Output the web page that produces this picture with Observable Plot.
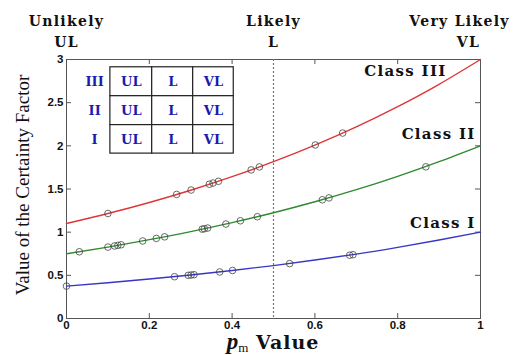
<!DOCTYPE html>
<html>
<head>
<meta charset="utf-8">
<script src="https://cdn.jsdelivr.net/npm/d3@7"></script>
<script src="https://cdn.jsdelivr.net/npm/@observablehq/plot@0.6"></script>
<style>
  html, body { margin: 0; padding: 0; background: #fff; }
  #chart { width: 524px; height: 355px; }
</style>
</head>
<body>
<div id="chart"></div>
<script>
// ---- data ----
const xTicks = [0, 0.2, 0.4, 0.6, 0.8, 1];
const yTicks = [0, 0.5, 1, 1.5, 2, 2.5, 3];
const xTickLabels = ["0", "0.2", "0.4", "0.6", "0.8", "1"];
const yTickLabels = ["0", "0.5", "1", "1.5", "2", "2.5", "3"];

const pX = [0, 0.1, 0.2, 0.3, 0.4, 0.5, 0.6, 0.7, 0.8, 0.9, 1];
const classI = [0.375, 0.414, 0.457, 0.504, 0.556, 0.613, 0.677, 0.746, 0.824, 0.909, 1.0];
const classII = [0.75, 0.827, 0.913, 1.007, 1.111, 1.225, 1.352, 1.492, 1.647, 1.817, 2.0];
const classIII = [1.1, 1.216, 1.344, 1.486, 1.643, 1.816, 2.008, 2.219, 2.454, 2.713, 3.0];

const ptsIx = [0.0, 0.261, 0.294, 0.301, 0.308, 0.37, 0.401, 0.539, 0.684, 0.692];
const ptsIy = [0.375, 0.484, 0.500, 0.504, 0.507, 0.539, 0.556, 0.636, 0.733, 0.739];
const ptsIIx = [0.031, 0.10, 0.116, 0.124, 0.132, 0.184, 0.217, 0.237, 0.328, 0.333, 0.341, 0.385, 0.42, 0.461, 0.618, 0.634, 0.868];
const ptsIIy = [0.773, 0.827, 0.840, 0.847, 0.854, 0.898, 0.928, 0.946, 1.035, 1.040, 1.048, 1.094, 1.132, 1.179, 1.375, 1.397, 1.757];
const ptsIIIx = [0.10, 0.266, 0.301, 0.345, 0.354, 0.367, 0.446, 0.466, 0.601, 0.667];
const ptsIIIy = [1.216, 1.437, 1.488, 1.555, 1.569, 1.589, 1.721, 1.756, 2.01, 2.148];

const classNames = ["Class I", "Class II", "Class III"];
const levelNames = ["Unlikely", "Likely", "Very Likely"];
const levelCodes = ["UL", "L", "VL"];
const levelAt = [0, 0.5, 1];
const tableRows = ["III", "II", "I"];

// ---- layout ----
const W = 524, H = 355;
const mT = 59, mB = 37, mL = 66, mR = 44;
const plotH = H - mT - mB, plotW = W - mL - mR;
const tickLen = 5;
const tkY = tickLen * 3 / plotH, tkX = tickLen / plotW;

const serifB = "'DejaVu Serif', serif";
const colors = {"Class I": "#3636c8", "Class II": "#2f8a2f", "Class III": "#e03535"};

const lineData = [];
[classI, classII, classIII].forEach((arr, k) => arr.forEach((v, i) => lineData.push({cls: classNames[k], x: pX[i], y: v})));
const ptData = [];
[[ptsIx, ptsIy], [ptsIIx, ptsIIy], [ptsIIIx, ptsIIIy]].forEach(([xs, ys], k) => xs.forEach((x, i) => ptData.push({cls: classNames[k], x, y: ys[i]})));

// table inset (in data coords)
const tX = [0.106, 0.207, 0.306, 0.404];
const tY = [2.91, 2.575, 2.24, 1.91];
const cells = [];
tableRows.forEach((r, i) => levelCodes.forEach((c, j) => cells.push({x1: tX[j], x2: tX[j+1], y1: tY[i+1], y2: tY[i], text: c})));
const rowLbl = tableRows.map((r, i) => ({x: 0.068, y: (tY[i] + tY[i+1]) / 2, text: r}));

const classLbl = [
  {text: "Class III", x: 0.918, y: 2.87},
  {text: "Class II", x: 0.988, y: 2.14},
  {text: "Class I", x: 0.988, y: 1.10}
];

const tableBlue = "#1a1ab0";

const svg = Plot.plot({
  width: W, height: H,
  marginTop: mT, marginBottom: mB, marginLeft: mL, marginRight: mR,
  style: {background: "#fff", overflow: "visible"},
  x: {domain: [0, 1], axis: null},
  y: {domain: [0, 3], axis: null},
  marks: [
    Plot.frame({stroke: "#555", strokeWidth: 1}),
    // inward ticks
    Plot.ruleX(xTicks, {x: d => d, y1: 0, y2: tkY, stroke: "#555"}),
    Plot.ruleX(xTicks, {x: d => d, y1: 3 - tkY, y2: 3, stroke: "#555"}),
    Plot.ruleY(yTicks, {y: d => d, x1: 0, x2: tkX, stroke: "#555"}),
    Plot.ruleY(yTicks, {y: d => d, x1: 1 - tkX, x2: 1, stroke: "#555"}),
    // tick labels
    Plot.text(xTicks, {x: d => d, frameAnchor: "bottom", dy: 10, text: (d, i) => xTickLabels[i],
      fontFamily: "'Liberation Sans', Arial, sans-serif", fontWeight: "bold", fontSize: 11.5, fill: "#111"}),
    Plot.text(yTicks, {y: d => d, frameAnchor: "left", dx: -3, textAnchor: "end", text: (d, i) => yTickLabels[i],
      fontFamily: "'Liberation Sans', Arial, sans-serif", fontWeight: "bold", fontSize: 11.5, fill: "#111"}),
    // dashed line at p = 0.5
    Plot.ruleX([0.5], {stroke: "#777", strokeWidth: 1.2, strokeDasharray: "2,2"}),
    // curves
    Plot.line(lineData, {x: "x", y: "y", z: "cls", stroke: d => colors[d.cls], strokeWidth: 1.4, curve: "natural"}),
    Plot.dot(ptData, {x: "x", y: "y", r: 3.3, stroke: "#444", strokeWidth: 0.8, fill: "none"}),
    // class labels
    Plot.text(classLbl, {x: "x", y: "y", text: "text", textAnchor: "end", fontFamily: serifB, fontWeight: "bold", fontSize: 15, fill: "#111"}),
    // table inset
    Plot.rect(cells, {x1: "x1", x2: "x2", y1: "y1", y2: "y2", fill: "#fff", stroke: "#222", strokeWidth: 1.2}),
    Plot.text(cells, {x: d => (d.x1 + d.x2) / 2, y: d => (d.y1 + d.y2) / 2, text: "text", fontFamily: serifB, fontWeight: "bold", fontSize: 13, fill: tableBlue}),
    Plot.text(rowLbl, {x: "x", y: "y", text: "text", fontFamily: serifB, fontWeight: "bold", fontSize: 13, fill: tableBlue}),
    // top labels
    Plot.text(levelAt.slice(0, 2), {x: d => d, frameAnchor: "top", dy: -43, text: (d, i) => levelNames[i], fontFamily: serifB, fontWeight: "bold", fontSize: 14, fill: "#111"}),
    Plot.text(levelAt.slice(0, 2), {x: d => d, frameAnchor: "top", dy: -22, text: (d, i) => levelCodes[i], fontFamily: serifB, fontWeight: "bold", fontSize: 14, fill: "#111"}),
    Plot.text(levelAt.slice(2), {x: d => d, frameAnchor: "top", dy: -43, dx: -21, text: () => levelNames[2], fontFamily: serifB, fontWeight: "bold", fontSize: 14, fill: "#111"}),
    Plot.text(levelAt.slice(2), {x: d => d, frameAnchor: "top", dy: -22, dx: -12, text: () => levelCodes[2], fontFamily: serifB, fontWeight: "bold", fontSize: 14, fill: "#111"}),
    // y axis title
    Plot.text(["Value of the Certainty Factor"], {frameAnchor: "left", dx: -44, dy: -4, rotate: -90, textAnchor: "middle", text: d => d,
      fontFamily: "'Liberation Serif', 'Times New Roman', serif", fontSize: 19, fill: "#111"})
  ]
});

// letter-spacing for wide bold serif labels (not inside the table)
const spaced = new Set([...levelNames, ...levelCodes, ...classNames]);
d3.select(svg).selectAll("text").each(function() {
  const g = this.closest("g");
  const inTable = g && g.getAttribute("fill") === tableBlue;
  if (spaced.has(this.textContent) && !inTable) {
    this.style.letterSpacing = "1.3px";
  }
});

// x axis title: p_m Value
const xs = svg.scale("x");
const t = d3.select(svg).append("text")
  .attr("x", xs.apply(0.5))
  .attr("y", H - 6)
  .attr("text-anchor", "middle")
  .attr("fill", "#111");
t.append("tspan").text("p")
  .attr("font-family", "'Liberation Serif', 'Times New Roman', serif")
  .attr("font-style", "italic").attr("font-weight", "bold").attr("font-size", 23);
t.append("tspan").text("m").attr("dy", 3)
  .attr("font-family", "'Liberation Serif', 'Times New Roman', serif")
  .attr("font-size", 13);
t.append("tspan").text(" Value").attr("dy", -3)
  .attr("font-family", serifB).attr("font-weight", "bold").attr("font-size", 19)
  .style("letter-spacing", "1px");

document.getElementById("chart").appendChild(svg);
</script>
</body>
</html>
